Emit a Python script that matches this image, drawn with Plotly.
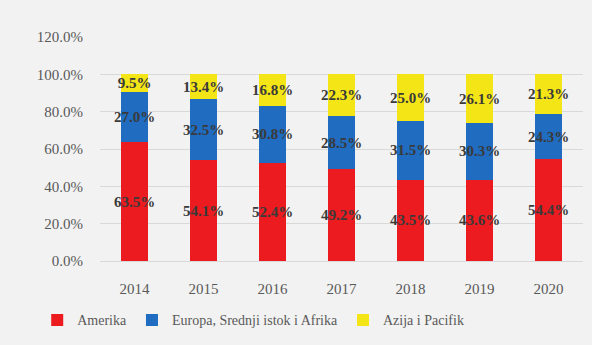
import plotly.graph_objects as go

years = ["2014", "2015", "2016", "2017", "2018", "2019", "2020"]
amerika = [63.5, 54.1, 52.4, 49.2, 43.5, 43.6, 54.4]
europa = [27.0, 32.5, 30.8, 28.5, 31.5, 30.3, 24.3]
azija = [9.5, 13.4, 16.8, 22.3, 25.0, 26.1, 21.3]

series = [
    ("Amerika", amerika, "#ec1b1f"),
    ("Europa, Srednji istok i Afrika", europa, "#1f6cc1"),
    ("Azija i Pacifik", azija, "#f4e516"),
]

SERIF = "Liberation Serif"

fig = go.Figure()
for name, vals, col in series:
    fig.add_trace(go.Bar(
        x=years, y=[v / 100 for v in vals], name=name,
        marker=dict(color=col, line=dict(width=0)),
        text=[f"{v:.1f}%" for v in vals],
        textposition="inside", insidetextanchor="middle", textangle=0,
        constraintext="none", cliponaxis=False,
        textfont=dict(family=SERIF, size=15, color="#3a3a3a", weight="bold"),
    ))

fig.update_layout(
    barmode="stack", bargap=0.6,
    width=592, height=345,
    margin=dict(l=100, r=9, t=37, b=79),
    paper_bgcolor="#f2f2f2", plot_bgcolor="#f2f2f2",
    font=dict(family=SERIF, size=15, color="#595959"),
    legend=dict(orientation="h", x=-0.13, xanchor="left",
                y=-0.265, yanchor="middle",
                font=dict(family=SERIF, size=14, color="#595959"),
                itemwidth=30, traceorder="normal"),
    showlegend=True,
)
fig.update_yaxes(range=[0, 1.2], dtick=0.2, tickformat=".1%", gridcolor="#d9d9d9",
                 gridwidth=1, zeroline=False, showline=False, ticks="", automargin=False,
                 ticklabelstandoff=16, tickfont=dict(family=SERIF, size=15))
fig.update_xaxes(showline=True, linecolor="#d9d9d9", ticks="", ticklabelstandoff=14,
                 automargin=False, tickfont=dict(family=SERIF, size=15))

fig.write_html("out.html")
